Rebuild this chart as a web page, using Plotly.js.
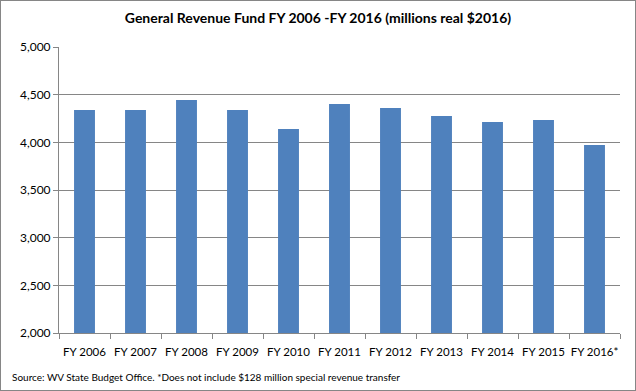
<!DOCTYPE html>
<html>
<head>
<meta charset="utf-8">
<script src="https://cdn.plot.ly/plotly-3.0.1.min.js"></script>
<style>
html,body{margin:0;padding:0;background:#fff;}
#wrap{position:absolute;left:0;top:0;width:634px;height:389px;border:1px solid #868686;}
#chart{width:634px;height:389px;}
</style>
</head>
<body>
<div id="wrap"><div id="chart"></div></div>
<script>
const categories = ["FY 2006","FY 2007","FY 2008","FY 2009","FY 2010","FY 2011","FY 2012","FY 2013","FY 2014","FY 2015","FY 2016*"];
const revenue = [4340, 4340, 4445, 4340, 4140, 4403, 4361, 4277, 4214, 4235, 3972];
const yTicks = [2000, 2500, 3000, 3500, 4000, 4500, 5000];
const yTickLabels = ["2,000","2,500","3,000","3,500","4,000","4,500","5,000"];

const font = "Lato, 'Open Sans', sans-serif";
Plotly.newPlot("chart", [{
  type: "bar",
  x: categories,
  y: revenue,
  marker: {color: "#4F81BD"},
  width: 0.41,
  hoverinfo: "x+y"
}], {
  width: 634, height: 389,
  margin: {l: 58, r: 15, t: 46, b: 57},
  paper_bgcolor: "#fff",
  plot_bgcolor: "#fff",
  title: {text: "<b>General Revenue Fund FY 2006 -FY 2016 (millions real $2016)</b>", x: 0.5, xanchor: "center", y: 0.955, yanchor: "middle", font: {family: font, size: 14, color: "#000"}},
  xaxis: {
    type: "category",
    showline: true, linecolor: "#868686", linewidth: 1,
    ticks: "outside", tickson: "boundaries", ticklen: 5, tickcolor: "#868686",
    tickangle: 0, ticklabelstandoff: 8,
    tickfont: {family: font, size: 11.5, color: "#000"},
    showgrid: false, zeroline: false
  },
  yaxis: {
    range: [2000, 5000],
    tickvals: yTicks, ticktext: yTickLabels,
    showline: true, linecolor: "#868686", linewidth: 1,
    ticks: "outside", ticklen: 5, tickcolor: "#868686",
    showgrid: true, gridcolor: "#868686", gridwidth: 1,
    tickfont: {family: font, size: 12, color: "#000"},
    zeroline: false
  },
  annotations: [{
    text: "Source: WV State Budget Office. *Does not include $128 million special revenue transfer",
    xref: "paper", yref: "paper", x: -49/561, y: -44/286, xanchor: "left", yanchor: "middle",
    showarrow: false, font: {family: font, size: 10, color: "#000"}
  }],
  showlegend: false,
  bargap: 0.59
}, {displayModeBar: false, staticPlot: true});
</script>
</body>
</html>
